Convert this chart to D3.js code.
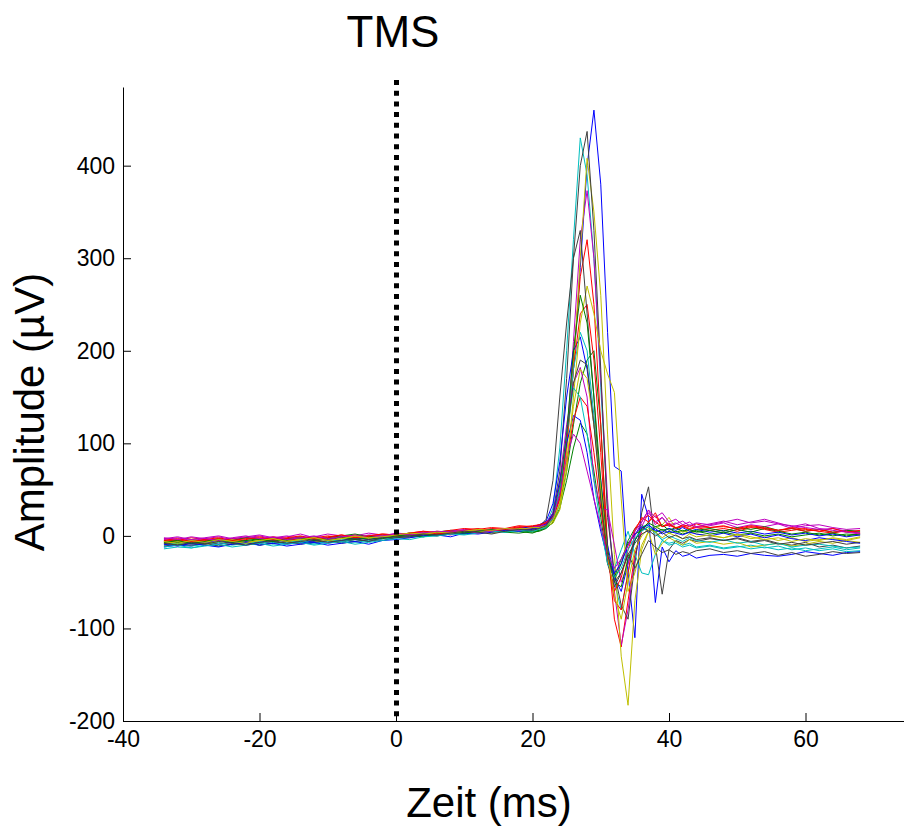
<!DOCTYPE html>
<html>
<head>
<meta charset="utf-8">
<script src="https://cdn.jsdelivr.net/npm/d3@7"></script>
<style>
  body { margin: 0; background: #fff; }
  svg { display: block; font-family: "Liberation Sans", Arial, Helvetica, sans-serif; }
</style>
</head>
<body>
<div class="mep-wrapper"></div>
<script>

// sample times (ms) – coarse in baseline, 1 ms around the MEP
const timeMs = [-34,-32,-30,-28,-26,-24,-22,-20,-18,-16,-14,-12,-10,-8,-6,-4,-2,0,2,4,6,8,10,12,14,16,18,20,
  21,22,23,24,25,26,27,28,29,30,31,32,33,34,35,36,37,38,39,40,41,42,43,44,
  46,48,50,52,54,56,58,60,62,64,66,68]

// one row per trial, amplitude in µV (baseline / MEP / tail)
const trials = [
  [-12,-10,-11,-8,-9,-7,-10,-8,-6,-9,-7,-6,-8,-5,-4,-6,-3,-2,0,2,1,3,5,4,6,7,6,9,
   10,13,22,45,95,180,290,400,460,380,220,75,70,-40,-110,45,20,-72,-12,-28,-16,-22,-20,-24,
   -21,-20,-22,-19,-21,-22,-20,-17,-19,-21,-18,-17],
  [-6,-5,-7,-4,-5,-3,-6,-4,-2,-5,-3,-1,-4,-2,-3,0,-2,1,3,2,4,5,3,6,5,8,6,4,
   5,8,15,35,70,120,165,190,200,120,-20,-48,-30,-5,8,12,5,10,6,8,4,6,3,5,
   2,4,1,3,0,2,-1,1,3,0,2,1],
  [-3,-5,-2,-4,-6,-3,-2,-4,-1,-3,-5,-2,0,-2,1,-1,0,2,1,3,5,4,6,5,8,7,10,9,
   11,14,20,40,95,190,280,320,250,120,-10,-90,-120,-70,-20,5,15,22,10,12,8,10,7,9,
   6,8,5,9,7,4,6,8,5,3,6,4],
  [-14,-12,-13,-10,-11,-9,-8,-10,-7,-8,-6,-9,-5,-7,-4,-6,-3,-1,-2,1,0,2,4,3,5,4,7,6,
   8,12,30,95,200,320,430,390,300,160,30,-50,-80,-40,-5,10,12,5,-5,-8,-6,-10,-8,-12,
   -10,-13,-11,-14,-12,-15,-13,-16,-14,-12,-15,-13],
  [-4,-2,-5,-3,-1,-4,-2,0,-3,-1,2,-2,-4,-1,0,3,1,-1,2,4,3,1,5,4,7,6,9,8,
   10,12,18,40,100,210,320,373,300,170,40,-60,-118,-80,-25,10,25,15,20,12,14,10,12,9,
   11,14,9,12,10,13,8,11,12,9,7,8],
  [-7,-9,-6,-8,-7,-5,-8,-6,-4,-6,-5,-7,-3,-5,-2,-4,-1,0,-2,2,1,3,2,5,4,6,8,7,
   9,11,16,35,90,180,300,408,350,260,110,-20,-130,-183,-70,-15,5,8,12,20,8,4,6,2,
   0,-2,1,-3,-1,-5,-2,-6,-4,-3,-5,-2],
  [-9,-7,-8,-6,-9,-7,-5,-8,-6,-4,-7,-5,-3,-6,-4,-2,-3,-1,1,0,2,4,3,5,6,5,7,8,
   9,12,25,70,170,300,400,437,330,180,20,-40,-75,-90,-30,25,53,-10,-63,-15,-5,-8,-4,-6,
   -3,-5,-2,-6,-4,-8,-10,-7,-12,-10,-13,-11],
  [-8,-6,-9,-7,-5,-8,-6,-7,-4,-6,-8,-5,-3,-5,-2,-4,-1,1,0,2,4,3,2,5,7,6,8,10,
   12,16,35,80,150,200,215,180,120,60,-10,-45,-60,-30,-5,8,12,6,4,8,6,9,5,7,
   4,6,3,5,2,4,1,3,0,2,-1,1],
  [-5,-7,-4,-6,-3,-5,-2,-4,-6,-3,-1,-3,-2,0,2,-1,1,0,3,2,4,6,5,7,4,6,5,3,
   6,9,14,30,60,95,122,110,70,20,-30,-45,-25,-8,2,6,10,4,7,3,5,2,4,6,
   8,5,9,7,10,6,8,5,7,4,6,5],
  [-6,-4,-7,-5,-3,-6,-4,-2,-5,-3,-1,-4,-2,1,-1,0,2,1,3,5,4,6,8,7,9,8,11,10,
   12,15,22,45,100,180,240,250,190,90,-20,-70,-80,-40,5,20,15,25,10,14,8,12,10,13,
   9,10,8,11,9,6,8,5,7,4,5,3],
  [-10,-8,-11,-9,-7,-10,-8,-6,-9,-7,-5,-8,-6,-4,-7,-5,-3,-2,0,-1,1,3,2,4,3,6,5,7,
   8,10,20,50,110,180,220,200,130,50,-20,-35,-15,5,-20,-40,-42,-20,-5,-10,-8,-12,-10,-13,
   -11,-14,-12,-10,-13,-11,-15,-13,-16,-14,-17,-16],
  [-3,-1,-4,-2,0,-3,-1,1,-2,0,-3,-1,2,0,-2,1,0,3,2,4,3,5,7,6,5,8,7,9,
   11,14,25,60,120,165,182,150,60,30,28,-10,-50,-30,0,15,28,12,20,10,13,16,11,14,
   12,15,18,14,16,13,11,9,7,8,5,3],
  [-8,-6,-7,-9,-6,-4,-7,-5,-3,-6,-4,-2,-5,-3,-1,-3,0,-1,1,3,2,4,6,5,3,6,8,7,
   8,10,14,28,70,150,230,270,240,200,175,155,40,-60,-40,-10,5,-20,-8,-2,-6,-10,-4,-8,
   -6,-9,-7,-12,-10,-8,-11,-9,-6,-8,-5,-7],
  [-11,-9,-10,-8,-11,-9,-7,-10,-8,-6,-9,-7,-5,-8,-6,-4,-5,-2,-1,1,0,2,4,3,5,7,6,8,
   10,18,60,150,230,300,330,240,150,40,-30,-55,-40,-20,-35,-20,-5,-12,-18,-15,-20,-17,-19,-16,
   -14,-18,-16,-19,-17,-21,-18,-22,-20,-17,-19,-18],
  [-9,-11,-8,-10,-12,-9,-7,-10,-8,-11,-9,-7,-10,-8,-6,-9,-5,-4,-2,0,1,-1,3,2,4,6,5,7,
   9,13,24,60,100,130,125,90,40,5,-25,-40,-30,-10,2,10,4,8,2,5,3,1,4,2,
   0,3,-1,2,-2,1,-3,-5,-2,-4,-6,-8],
  [-7,-5,-8,-6,-4,-7,-5,-3,-6,-4,-2,-5,-3,-1,-4,-2,-3,0,1,-1,2,4,3,5,7,4,3,5,
   6,9,18,45,110,200,260,230,150,60,-15,-50,-55,-25,-5,8,14,10,12,6,9,5,7,4,
   6,3,7,4,8,5,2,4,1,3,0,2],
  [-5,-3,-6,-4,-2,-5,-3,-1,-4,-2,0,-3,-1,1,-2,0,2,1,3,5,2,4,6,8,5,7,9,11,
   12,14,20,40,80,125,150,140,90,30,-25,-60,-45,-15,8,18,22,15,10,12,9,11,8,10,
   9,11,7,10,8,6,9,7,5,8,4,6],
  [-12,-10,-13,-11,-9,-12,-10,-8,-11,-9,-7,-10,-8,-6,-9,-7,-5,-3,-4,-1,0,2,1,3,5,4,6,5,
   7,9,18,50,110,160,150,110,60,10,-30,-45,-35,-15,-2,5,10,2,-4,0,-3,-6,-2,-5,
   -7,-4,-8,-6,-10,-8,-12,-10,-9,-11,-13,-12],
  [-2,-4,-1,-3,-5,-2,0,-3,-1,-4,-2,0,-3,-1,1,-2,0,2,1,3,5,4,6,3,5,8,6,9,
   10,12,20,45,85,110,100,70,40,10,-20,-35,-25,-10,5,15,28,20,25,15,18,12,15,10,
   13,16,12,15,18,14,10,13,8,6,4,2],
  [-6,-8,-5,-7,-4,-6,-8,-5,-3,-6,-4,-2,-5,-3,0,-2,-1,1,3,2,4,3,5,7,6,8,7,9,
   9,11,17,35,80,140,180,170,120,50,-20,-65,-90,-50,-15,0,8,4,-2,3,0,-3,2,-1,
   1,-2,2,-1,-4,-2,-6,-3,-5,-2,-4,-1],
  [-8,-10,-7,-9,-6,-8,-10,-7,-5,-8,-6,-4,-7,-5,-3,-6,-2,-1,0,2,1,3,5,4,2,5,7,6,
   8,11,22,55,110,165,190,185,120,40,-20,-50,-40,-20,-8,2,6,0,4,-2,1,-3,-1,-4,
   -2,-5,-3,-7,-5,-9,-7,-10,-8,-6,-9,-7]
]

// matlab-ish colour order b g r c m y k
const traceColors = ['#0000ff', '#008000', '#ff0000', '#00bfbf', '#bf00bf', '#bfbf00', '#404040']

const xTicks = [-40, -20, 0, 20, 40, 60]
const yTicks = [-200, -100, 0, 100, 200, 300, 400]

const width = 904
const height = 829

const svg = d3.select('.mep-wrapper')
  .append('svg')
  .attr('width', width)
  .attr('height', height)

const x = d3.scaleLinear()
  .domain([-40, 80])
  .range([123, 942])

const y = d3.scaleLinear()
  .domain([-200, 485])
  .range([721, 87])

const line = d3.line()
  .x((d, i) => x(timeMs[i]))
  .y(d => y(d))

svg.append('g')
  .selectAll('path')
  .data(trials)
  .enter().append('path')
  .attr('d', line)
  .attr('fill', 'none')
  .attr('stroke', (d, i) => traceColors[i % traceColors.length])
  .attr('stroke-width', 1)
  .attr('stroke-linejoin', 'round')

// stimulus marker
svg.append('line')
  .attr('x1', x(0) + 0.5)
  .attr('x2', x(0) + 0.5)
  .attr('y1', 80)
  .attr('y2', y(-200))
  .attr('stroke', '#000')
  .attr('stroke-width', 5)
  .attr('stroke-dasharray', '5 5.7')

// plain hyphen minus like the original, not the unicode one
const fmt = d => String(d)

svg.append('g')
  .attr('transform', `translate(0,${y(-200)})`)
  .call(d3.axisBottom(x).tickValues(xTicks).tickFormat(fmt).tickSize(-8).tickSizeOuter(0).tickPadding(10))

svg.append('g')
  .attr('transform', `translate(${x(-40)},0)`)
  .call(d3.axisLeft(y).tickValues(yTicks).tickFormat(fmt).tickSize(-8).tickSizeOuter(0).tickPadding(8))

svg.selectAll('.tick text')
  .attr('font-size', 23)
  .attr('font-family', '"Liberation Sans", Arial, sans-serif')
  .attr('fill', '#000')

svg.selectAll('.domain, .tick line')
  .attr('stroke', '#000')

svg.append('text')
  .attr('x', 393)
  .attr('y', 47)
  .attr('text-anchor', 'middle')
  .attr('font-size', 44)
  .text('TMS')

svg.append('text')
  .attr('x', 489)
  .attr('y', 817)
  .attr('text-anchor', 'middle')
  .attr('font-size', 42)
  .text('Zeit (ms)')

svg.append('text')
  .attr('transform', 'translate(44,412) rotate(-90)')
  .attr('text-anchor', 'middle')
  .attr('font-size', 42)
  .text('Amplitude (µV)')

</script>
</body>
</html>
